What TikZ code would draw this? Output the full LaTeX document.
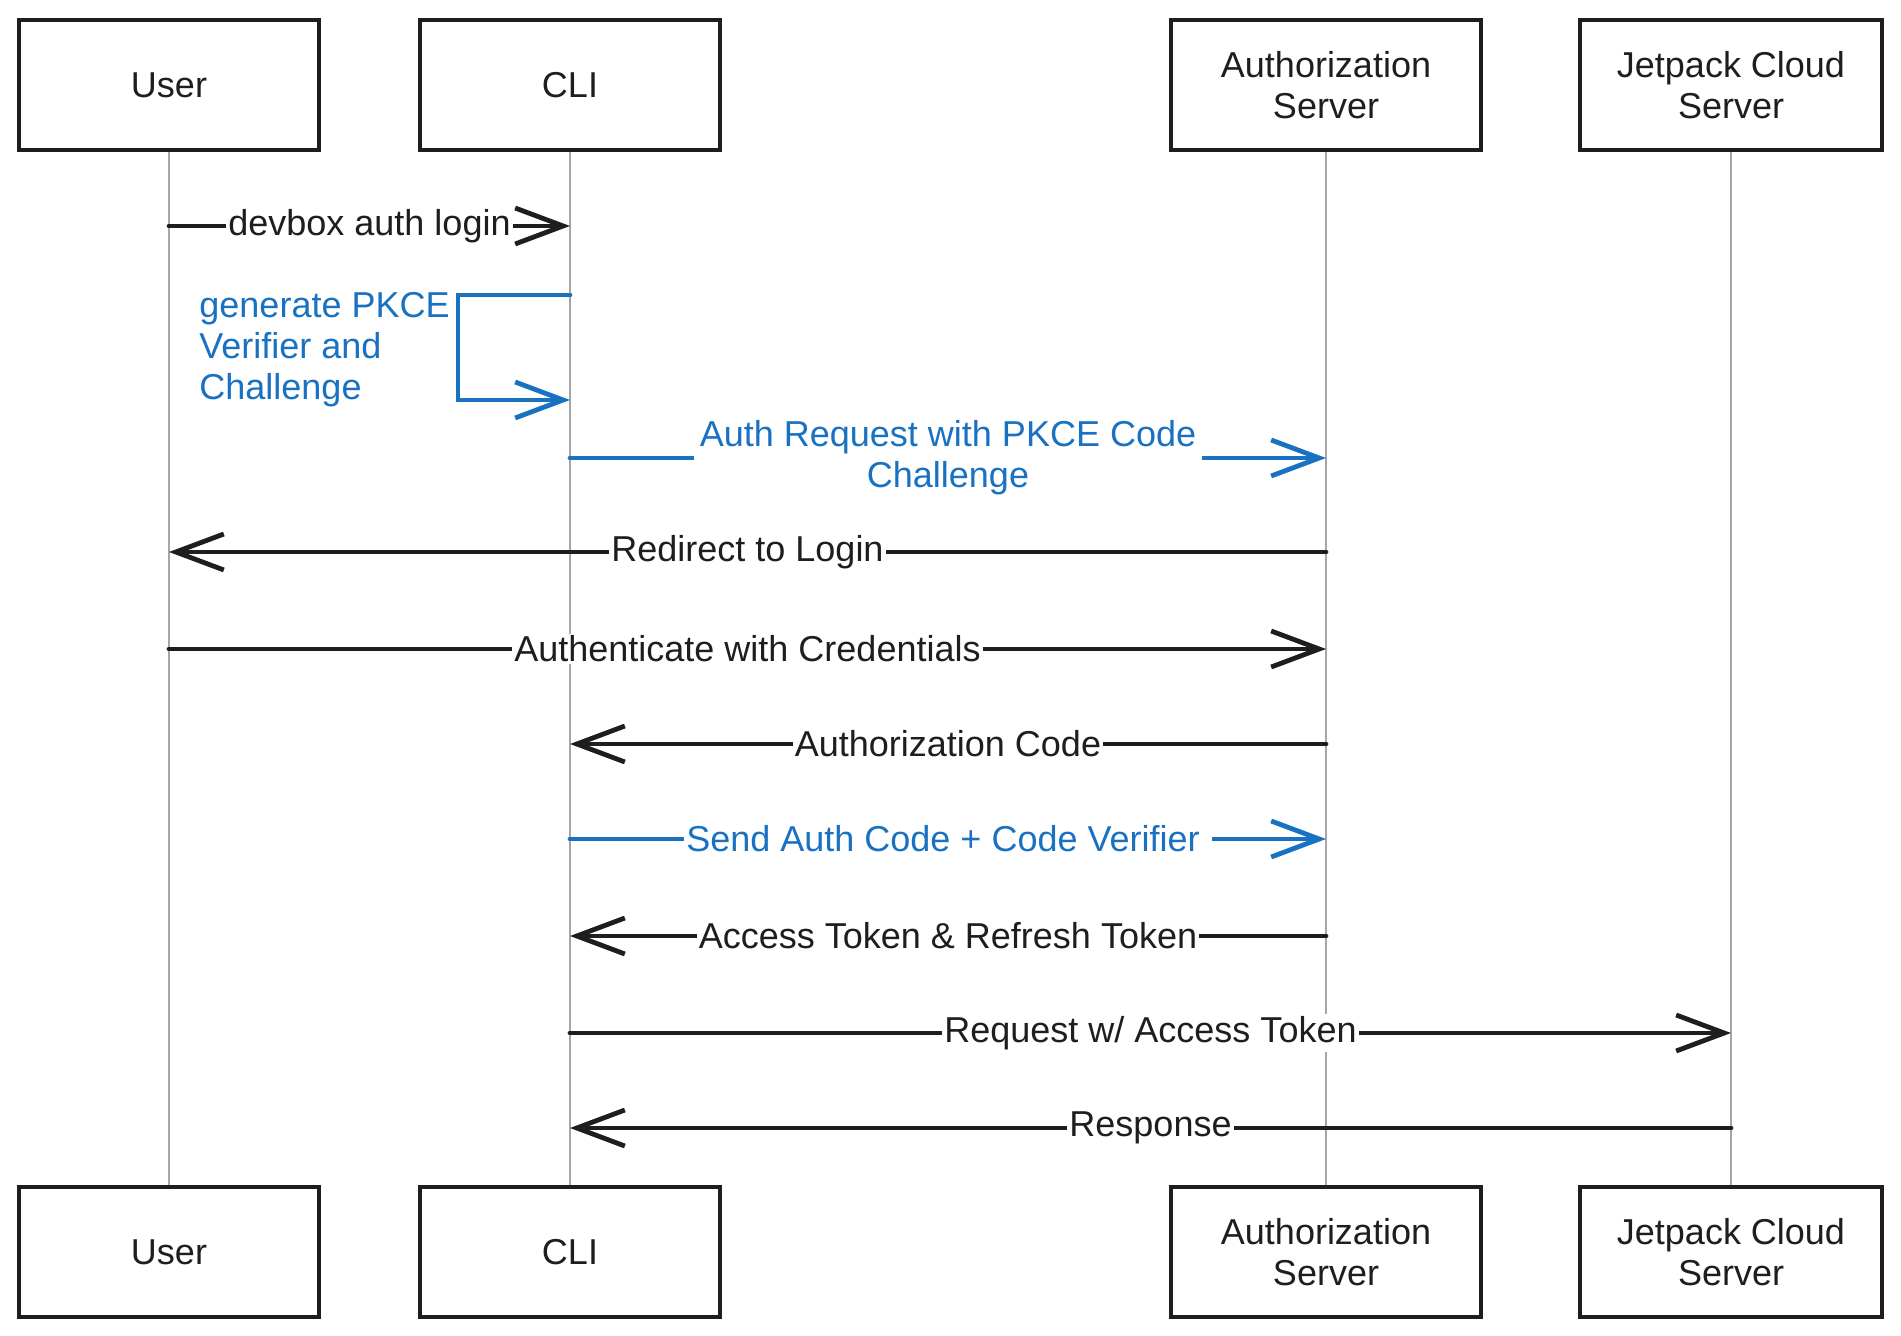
\documentclass[tikz,border=0pt]{standalone}
\usepackage{fontspec}
\setmainfont{Liberation Sans}
\usetikzlibrary{arrows.meta,positioning}
\definecolor{inkblack}{HTML}{1E1E1E}
\definecolor{inkblue}{HTML}{1971C2}

\begin{document}
\begin{tikzpicture}[x=0.5pt, y=-0.5pt,
    font=\fontsize{18}{20.5}\selectfont,
    actor/.style={draw=inkblack, line width=2pt, fill=white, text=inkblack,
      minimum width=150pt, minimum height=65pt, align=center, inner sep=2pt},
    lifeline/.style={draw=black!35, line width=0.7pt},
    msg/.style={draw=inkblack, line width=2.4pt, line cap=round,
      -{Straight Barb[length=24pt, width=18pt, line width=2.4pt]}},
    bluemsg/.style={msg, draw=inkblue},
    lbl/.style={fill=white, text=inkblack, inner sep=1pt, align=center},
    bluelbl/.style={lbl, text=inkblue}]

\useasboundingbox (0,0) rectangle (1901,1336);

% Participants, top row
\node[actor] (user)  at (169,85)  {User};
\node[actor] (cli)   at (570,85)  {CLI};
\node[actor, minimum width=155pt] (auth)  at (1326,85) {Authorization\\ Server};
\node[actor, minimum width=151pt] (cloud) at (1731,85) {Jetpack Cloud\\ Server};

% Participants, bottom row
\node[actor] (userB)  at (169,1252)  {User};
\node[actor] (cliB)   at (570,1252)  {CLI};
\node[actor, minimum width=155pt] (authB)  at (1326,1252) {Authorization\\ Server};
\node[actor, minimum width=151pt] (cloudB) at (1731,1252) {Jetpack Cloud\\ Server};

% Lifelines
\draw[lifeline] (user)  -- (userB);
\draw[lifeline] (cli)   -- (cliB);
\draw[lifeline] (auth)  -- (authB);
\draw[lifeline] (cloud) -- (cloudB);

% Message rows
\coordinate (r1) at (0,226);
\coordinate (r2a) at (0,295);
\coordinate (r2b) at (0,400);
\coordinate (r3) at (0,458);
\coordinate (r4) at (0,552);
\coordinate (r5) at (0,649);
\coordinate (r6) at (0,744);
\coordinate (r7) at (0,839);
\coordinate (r8) at (0,936);
\coordinate (r9) at (0,1033);
\coordinate (r10) at (0,1128);

\draw[msg] (user |- r1) -- (cli |- r1) node[midway, lbl] {devbox auth login};

% Self call on the CLI
\coordinate (loopL) at (458,0);
\draw[bluemsg] (cli |- r2a) -- (loopL |- r2a) -- (loopL |- r2b) -- (cli |- r2b);
\node[bluelbl, align=left, anchor=east] (gen) at (452,350) {generate PKCE\\ Verifier and\\ Challenge};

\draw[bluemsg] (cli |- r3) -- (auth |- r3)
  node[midway, bluelbl, inner sep=3pt] {Auth Request with PKCE Code\\ Challenge};
\draw[msg] (auth |- r4) -- (user |- r4) node[midway, lbl] {Redirect to Login};
\draw[msg] (user |- r5) -- (auth |- r5) node[midway, lbl] {Authenticate with Credentials};
\draw[msg] (auth |- r6) -- (cli |- r6) node[midway, lbl] {Authorization Code};
\draw[bluemsg] (cli |- r7) -- (auth |- r7) node[midway, bluelbl] {Send Auth Code + Code Verifier\;};
\draw[msg] (auth |- r8) -- (cli |- r8) node[midway, lbl] {Access Token \& Refresh Token};
\draw[msg] (cli |- r9) -- (cloud |- r9) node[midway, lbl] {Request w/ Access Token};
\draw[msg] (cloud |- r10) -- (cli |- r10) node[midway, lbl] {Response};

\end{tikzpicture}
\end{document}
